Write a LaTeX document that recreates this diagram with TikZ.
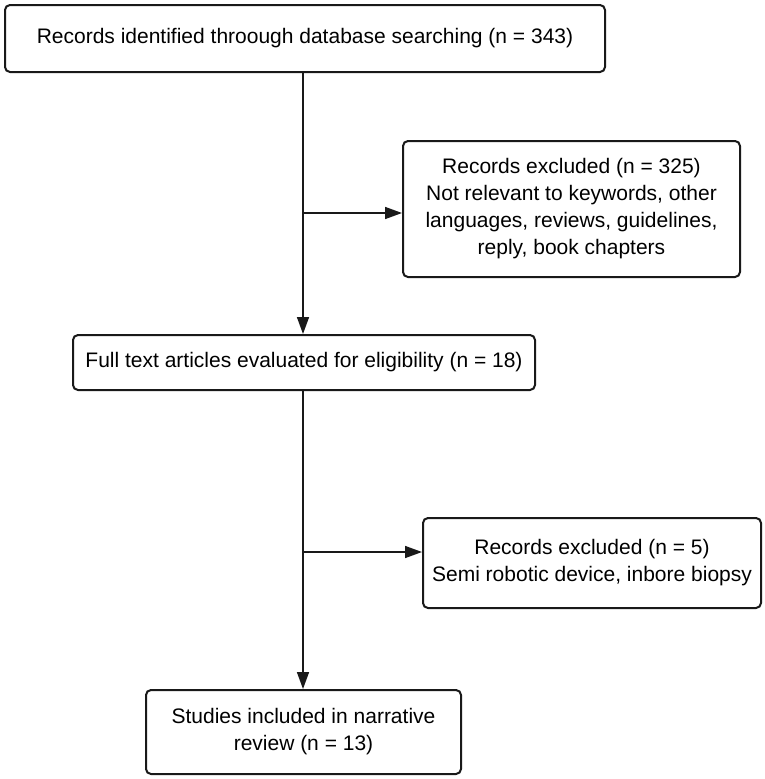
\documentclass[tikz,border=0pt]{standalone}
\usepackage{fontspec}
\setmainfont{Liberation Sans}
\usetikzlibrary{arrows.meta}
\begin{document}
\begin{tikzpicture}[x=1pt,y=-1pt,
  box/.style={draw=black!90, line width=2pt, rounded corners=5pt, align=center, inner sep=0pt, font=\fontsize{21}{27}\selectfont},
  conn/.style={line width=1.6pt, black!90},
  arr/.style={conn, -{Triangle[length=17pt,width=12pt]}}]
\useasboundingbox (0,0) rectangle (765,779);
\node[box, minimum width=600pt, minimum height=67pt] (b1) at (305,38.5) {Records identified throough database searching (n = 343)};
\node[box, minimum width=337pt, minimum height=136pt] (e1) at (571.5,209) {Records excluded (n = 325)\\Not relevant to keywords, other\\languages, reviews, guidelines,\\reply, book chapters};
\node[box, minimum width=462pt, minimum height=55pt] (b2) at (304,362.5) {Full text articles evaluated for eligibility (n = 18)};
\node[box, minimum width=338pt, minimum height=90pt] (e2) at (592,563) {Records excluded (n = 5)\\Semi robotic device, inbore biopsy};
\node[box, minimum width=315pt, minimum height=84pt] (b3) at (303.5,732) {Studies included in narrative\\review (n = 13)};
\coordinate (j1) at (303,213);
\coordinate (j2) at (303,552);
\draw[conn] (b1.south -| j1) -- (j1);
\draw[arr] (j1) -- (j1 -| e1.west);
\draw[arr] (j1) -- (b2.north -| j1);
\draw[conn] (b2.south -| j2) -- (j2);
\draw[arr] (j2) -- (j2 -| e2.west);
\draw[arr] (j2) -- (b3.north -| j2);
\end{tikzpicture}
\end{document}
